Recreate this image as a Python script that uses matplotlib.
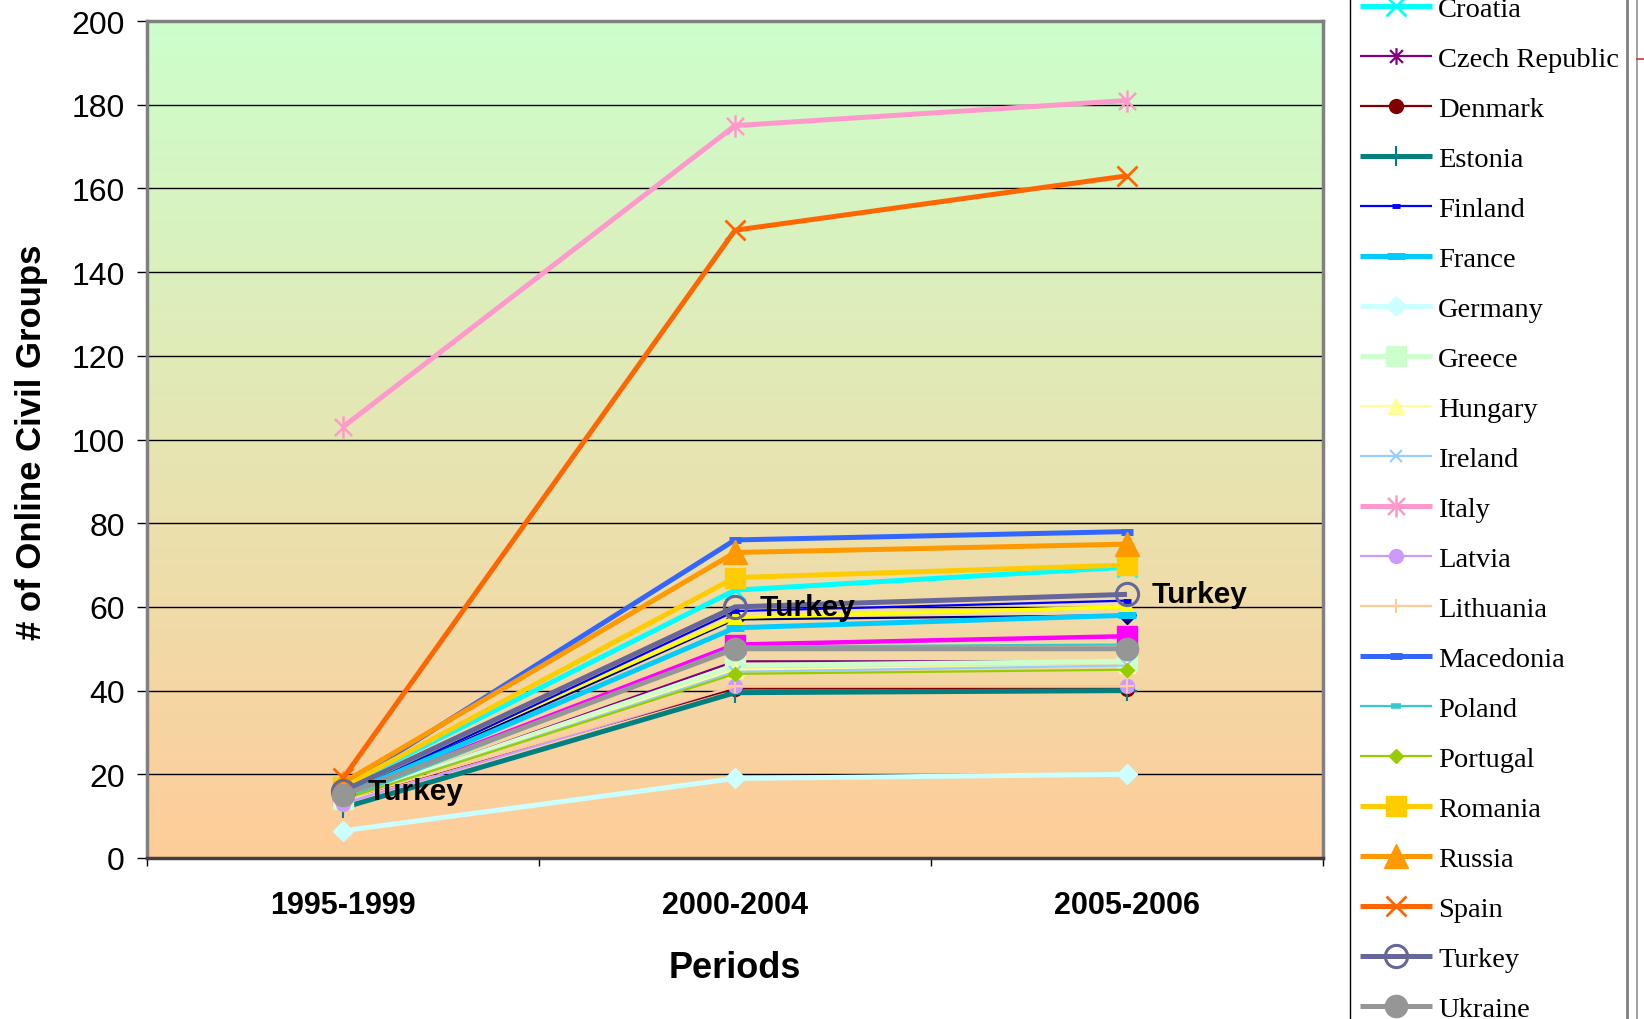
import numpy as np
import matplotlib
matplotlib.use("Agg")
import matplotlib.pyplot as plt
from matplotlib.lines import Line2D
from matplotlib.path import Path

# ---------------- data ----------------
periods = ["1995-1999", "2000-2004", "2005-2006"]

austria = [15, 57, 58]
belgium = [15, 51, 53]
bulgaria = [16, 57.5, 60]
croatia = [17, 64, 69.5]
czech_republic = [14, 47, 47]
denmark = [14, 40.5, 40.5]
estonia = [12, 39.5, 40]
finland = [15, 59, 61.5]
france = [15, 55, 58]
germany = [6.5, 19, 20]
greece = [14, 46, 47]
hungary = [14, 45, 46]
ireland = [14, 44.5, 46]
italy = [103, 175, 181]
latvia = [13, 41, 41]
lithuania = [14, 41, 41]
macedonia = [17, 76, 78]
poland = [14, 50.5, 51]
portugal = [14, 44, 45]
romania = [17, 67, 70]
russia = [18, 73, 75]
spain = [19, 150, 163]
turkey = [16, 60, 63]
ukraine = [15, 50, 50]

country_names = ["Austria", "Belgium", "Bulgaria", "Croatia", "Czech Republic",
                 "Denmark", "Estonia", "Finland", "France", "Germany", "Greece",
                 "Hungary", "Ireland", "Italy", "Latvia", "Lithuania", "Macedonia",
                 "Poland", "Portugal", "Romania", "Russia", "Spain", "Turkey", "Ukraine"]
series_values = [austria, belgium, bulgaria, croatia, czech_republic, denmark,
                 estonia, finland, france, germany, greece, hungary, ireland,
                 italy, latvia, lithuania, macedonia, poland, portugal, romania,
                 russia, spain, turkey, ukraine]

y_ticks = [0, 20, 40, 60, 80, 100, 120, 140, 160, 180, 200]
label_series = "Turkey"

# ---------------- styles ----------------
ast = Path([(-1, -1), (1, 1), (-1, 1), (1, -1), (0, -1.3), (0, 1.3)],
           [Path.MOVETO, Path.LINETO] * 3)

styles = {
    "Austria":        dict(color="#000080", marker="D", ms=9, lw=1.6),
    "Belgium":        dict(color="#FF00FF", marker="s", ms=15, lw=3.2),
    "Bulgaria":       dict(color="#FFFF00", marker="^", ms=12, lw=2.6),
    "Croatia":        dict(color="#00FFFF", marker="x", ms=14, lw=3.6, mew=2),
    "Czech Republic": dict(color="#800080", marker=ast, ms=12, lw=1.6, mew=1.6, mfc="none"),
    "Denmark":        dict(color="#800000", marker="o", ms=10, lw=1.6),
    "Estonia":        dict(color="#008080", marker="+", ms=14, lw=3.6, mew=1.5),
    "Finland":        dict(color="#0000FF", marker="_", ms=6, lw=1.6, mew=3.5),
    "France":         dict(color="#00CCFF", marker="_", ms=13, lw=3.6, mew=5),
    "Germany":        dict(color="#CCFFFF", marker="D", ms=10, lw=3.6),
    "Greece":         dict(color="#CCFFCC", marker="s", ms=15, lw=3.6),
    "Hungary":        dict(color="#FFFF99", marker="^", ms=12, lw=1.6),
    "Ireland":        dict(color="#99CCFF", marker="x", ms=9, lw=1.6, mew=1.5),
    "Italy":          dict(color="#FF99CC", marker=ast, ms=16, lw=3.6, mew=1.8, mfc="none"),
    "Latvia":         dict(color="#CC99FF", marker="o", ms=10, lw=1.6),
    "Lithuania":      dict(color="#FFCC99", marker="+", ms=10, lw=1.6, mew=1.5),
    "Macedonia":      dict(color="#3366FF", marker="_", ms=8, lw=3.6, mew=5),
    "Poland":         dict(color="#33CCCC", marker="_", ms=7, lw=1.6, mew=4),
    "Portugal":       dict(color="#99CC00", marker="D", ms=7.5, lw=1.6),
    "Romania":        dict(color="#FFCC00", marker="s", ms=15, lw=3.6),
    "Russia":         dict(color="#FF9900", marker="^", ms=17, lw=3.6),
    "Spain":          dict(color="#FF6600", marker="x", ms=15, lw=3.6, mew=2),
    "Turkey":         dict(color="#666699", marker="o", ms=16, lw=3.6, mew=2.2, mfc="none"),
    "Ukraine":        dict(color="#969696", marker="o", ms=16, lw=3.6),
}

def line_kwargs(st):
    kw = dict(color=st["color"], lw=st["lw"], marker=st["marker"],
              markersize=st["ms"], markeredgecolor=st["color"],
              markerfacecolor=st.get("mfc", st["color"]),
              markeredgewidth=st.get("mew", 1.0), solid_capstyle="butt")
    return kw

# ---------------- figure ----------------
W, H = 1644, 1020
fig = plt.figure(figsize=(W / 100, H / 100), dpi=100)
fig.patch.set_facecolor("white")

ax_l, ax_r, ax_t, ax_b = 147, 1323, 22, 859
ax = fig.add_axes([ax_l / W, 1 - ax_b / H, (ax_r - ax_l) / W, (ax_b - ax_t) / H])

# gradient background
grad = np.linspace(0, 1, 256)[:, None]
c_top = np.array([0xCC, 0xFF, 0xCC]) / 255
c_bot = np.array([0xFF, 0xCC, 0x99]) / 255
img = c_top[None, None, :] * (1 - grad[:, :, None]) + c_bot[None, None, :] * grad[:, :, None]
ax.imshow(img, extent=(-0.5, 2.5, 0, 200), aspect="auto", zorder=0, origin="upper")

x = np.arange(len(periods))
for name, vals in zip(country_names, series_values):
    ax.plot(x, vals, **line_kwargs(styles[name]), zorder=2)

tvals = series_values[country_names.index(label_series)]
for xi, yi in zip(x, tvals):
    ax.annotate(label_series, (xi, yi), xytext=(25, 0),
                textcoords="offset pixels", ha="left", va="center", fontsize=21.5,
                fontweight="bold", family="Liberation Sans", zorder=5)

ax.set_xlim(-0.5, 2.5)
ax.set_ylim(0, 200)
ax.set_yticks(y_ticks)
ax.set_yticklabels([str(v) for v in y_ticks], family="Liberation Sans", fontsize=23)
ax.set_xticks(x)
ax.set_xticklabels(periods, family="Liberation Sans", fontsize=22, fontweight="bold")
ax.set_xticks([-0.5, 0.5, 1.5, 2.5], minor=True)
ax.tick_params(axis="x", which="major", length=0, pad=23)
ax.tick_params(axis="x", which="minor", length=6, width=1, direction="out", color="black")
ax.tick_params(axis="y", which="major", length=7, width=1, direction="out", pad=9, color="black")
ax.set_axisbelow(True)
ax.yaxis.grid(True, color="black", lw=1)
ax.xaxis.grid(False)

for side in ["left", "top", "right"]:
    ax.spines[side].set_color("#808080")
    ax.spines[side].set_linewidth(2.5)
ax.spines["bottom"].set_color("#404040")
ax.spines["bottom"].set_linewidth(2.5)

fig.text(31 / W, 1 - 442 / H, "# of Online Civil Groups", rotation=90,
         ha="center", va="center", fontsize=25, fontweight="bold", family="Liberation Sans")
fig.text(735 / W, 1 - 969 / H, "Periods", ha="center", va="center",
         fontsize=26, fontweight="bold", family="Liberation Sans")

# ---------------- legend (manually laid out, partially cropped like the original) ----------------
def fx(px):
    return px / W

def fy(py):
    return 1 - py / H

fig.add_artist(Line2D([fx(1350), fx(1350)], [fy(-5), fy(1030)], color="black", lw=1,
                      transform=fig.transFigure))
fig.add_artist(Line2D([fx(1627), fx(1627)], [fy(-5), fy(1030)], color="#808080", lw=2,
                      transform=fig.transFigure))
fig.add_artist(Line2D([fx(1637), fx(1637)], [fy(-5), fy(1030)], color="#909090", lw=1.2,
                      transform=fig.transFigure))
fig.add_artist(Line2D([fx(1637), fx(1645)], [fy(60), fy(60)], color="#E03030", lw=1.2,
                      transform=fig.transFigure))

first_visible = country_names.index("Croatia")
for i, name in enumerate(country_names):
    ypx = 7 + (i - first_visible) * 50
    if ypx < -40 or ypx > 1060:
        continue
    st = styles[name]
    ln = Line2D([fx(1360), fx(1396), fx(1432)], [fy(ypx)] * 3, markevery=[1],
                transform=fig.transFigure, **line_kwargs(st))
    fig.add_artist(ln)
    fig.text(fx(1438), fy(ypx + 10), name, ha="left", va="baseline",
             fontsize=20.5, family="Liberation Serif")

fig.savefig("out.png", dpi=100)
